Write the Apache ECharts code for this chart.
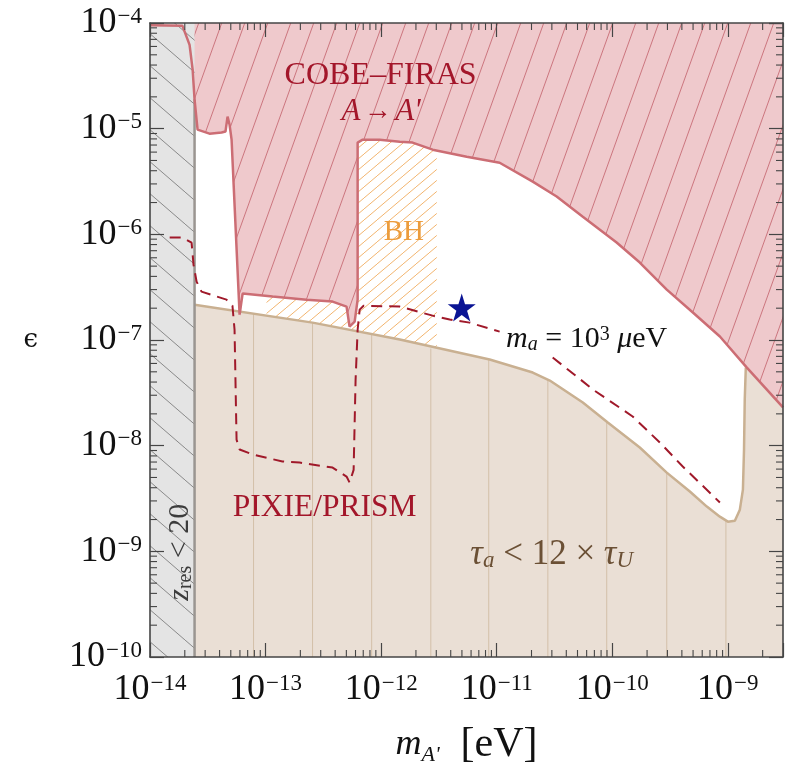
<!DOCTYPE html>
<html><head><meta charset="utf-8">
<script src="https://cdn.jsdelivr.net/npm/echarts@6/dist/echarts.min.js"></script>
<style>html,body{margin:0;padding:0;background:#fff}#c{width:791px;height:766px}</style>
</head><body><div id="c"></div>
<script>
// ---------- axis definitions ----------
const xMin = 1e-14, xMax = 3e-9, yMin = 1e-10, yMax = 1e-4;
const xDecades = [1e-14, 1e-13, 1e-12, 1e-11, 1e-10, 1e-9];
const yDecades = [1e-10, 1e-9, 1e-8, 1e-7, 1e-6, 1e-5];
const minorMult = [2, 3, 4, 5, 6, 7, 8, 9];

// ---------- data (m_A' [eV], epsilon) ----------
const zresRegion = [[1e-14, 1e-10], [2.43e-14, 1e-10], [2.43e-14, 1e-4], [1e-14, 1e-4]];
const zresEdge = [[2.43e-14, 1e-10], [2.43e-14, 1.9e-5]];

const cobeBoundary = [
  [1e-14, 9.5e-5], [1.91e-14, 9.4e-5], [2.2e-14, 6.2e-5], [2.34e-14, 3.6e-5], [2.43e-14, 1.88e-5],
  [2.58e-14, 9.8e-6], [3.27e-14, 8.97e-6], [4.16e-14, 9.2e-6], [4.5e-14, 9.4e-6], [4.69e-14, 1.3e-5],
  [4.88e-14, 1.09e-5], [5.08e-14, 7.87e-6], [5.96e-14, 1.74e-7], [6.08e-14, 1.67e-7], [6.33e-14, 2.75e-7],
  [1.15e-13, 2.58e-7], [2.26e-13, 2.41e-7], [3.8e-13, 2.31e-7], [5.02e-13, 2.07e-7], [5.33e-13, 1.34e-7],
  [5.9e-13, 1.49e-7], [6.26e-13, 2.41e-7], [6.26e-13, 7.38e-6], [6.92e-13, 7.87e-6], [9.7e-13, 7.87e-6],
  [1.45e-12, 7.53e-6], [1.87e-12, 7.38e-6], [2.79e-12, 6.33e-6], [5.5e-12, 5.43e-6], [1.06e-11, 4.76e-6],
  [2.05e-11, 3.15e-6], [3.3e-11, 2.28e-6], [5.56e-11, 1.47e-6], [1.09e-10, 8.36e-7], [1.73e-10, 5.41e-7],
  [2.96e-10, 3.0e-7], [4.98e-10, 1.82e-7], [8.53e-10, 1.08e-7], [1.46e-9, 5.48e-8], [3e-9, 2.3e-8]
];
const cobeTop = [[3e-9, 1e-4], [1e-14, 1e-4]];

const tauBoundary = [
  [2.43e-14, 2.16e-7], [2.55e-13, 1.46e-7], [1.45e-12, 1.01e-7], [8.69e-12, 6.53e-8], [2.05e-11, 4.92e-8],
  [2.88e-11, 4.13e-8], [5.56e-11, 2.56e-8], [9.14e-11, 1.66e-8], [1.73e-10, 9.6e-9], [2.96e-10, 5.56e-9],
  [4.69e-10, 3.68e-9], [6.58e-10, 2.65e-9], [8.53e-10, 2.13e-9], [1.0e-9, 1.91e-9], [1.15e-9, 1.95e-9],
  [1.27e-9, 2.48e-9], [1.35e-9, 3.84e-9], [1.38e-9, 9.2e-9], [1.40e-9, 2.74e-8], [1.43e-9, 5.48e-8]
];
const tauClose = [[3e-9, 2.3e-8], [3e-9, 1e-10], [2.43e-14, 1e-10]];
const tauGridX = [7.87e-14, 2.55e-13, 8.28e-13, 2.69e-12, 8.53e-12, 2.77e-11, 8.95e-11, 2.96e-10, 9.62e-10];
const tauGridTop = [1.78e-7, 1.46e-7, 1.12e-7, 8.3e-8, 6.53e-8, 4.22e-8, 1.7e-8, 5.56e-9, 1.95e-9];

const bhRegion = [[1.02e-13, 1.7e-7], [2.55e-13, 1.46e-7], [1.45e-12, 1.01e-7], [3.03e-12, 8.1e-8],
  [3.03e-12, 8e-6], [1.02e-13, 8e-6]];

const pixieLeft = [
  [1.48e-14, 9.31e-7], [1.91e-14, 9.31e-7], [2.29e-14, 8.33e-7], [2.38e-14, 5.16e-7], [2.53e-14, 3.57e-7],
  [2.79e-14, 2.87e-7], [4.59e-14, 2.41e-7], [5.17e-14, 2.11e-7], [5.39e-14, 1.25e-7], [5.61e-14, 1.14e-8],
  [5.96e-14, 9.2e-9], [7.7e-14, 8.26e-9], [1.4e-13, 7.08e-9], [1.97e-13, 6.92e-9], [3.8e-13, 6.2e-9],
  [5.02e-13, 5.1e-9], [5.33e-13, 4.48e-9], [5.78e-13, 5.9e-9], [6.01e-13, 4.2e-8], [6.26e-13, 1.25e-7],
  [6.52e-13, 1.94e-7], [7.05e-13, 2.11e-7], [1.45e-12, 2.07e-7], [2.79e-12, 1.7e-7], [3.92e-12, 1.56e-7],
  [5.83e-12, 1.46e-7], [1.06e-11, 1.2e-7]
];
const pixieRight = [
  [3.05e-11, 6.82e-8], [4.93e-11, 4.51e-8], [6.78e-11, 3.4e-8], [1.5e-10, 1.89e-8], [2.58e-10, 1.07e-8],
  [4.07e-10, 6.35e-9], [8.53e-10, 2.9e-9]
];
const starPoint = [[4.98e-12, 2.03e-7]];

// ---------- annotation anchors (data coords) ----------
const notes = [
  {key: 'cobe', at: [9.9e-13, 3.17e-5]},
  {key: 'cobe2', at: [1.0e-12, 1.45e-5]},
  {key: 'bh', at: [1.57e-12, 1.04e-6]},
  {key: 'ma', at: [6.0e-11, 1.01e-7]},
  {key: 'pixie', at: [3.24e-13, 2.6e-9]},
  {key: 'tau', at: [2.99e-11, 9.3e-10]},
  {key: 'zres', at: [1.84e-14, 9.8e-10]}
];

// ---------- helpers ----------
const SERIF = "'Liberation Serif', 'DejaVu Serif', serif";
function hatch(bg, line, w, h, dir, lw) {
  const c = document.createElement('canvas'); c.width = w; c.height = h;
  const g = c.getContext('2d');
  if (bg) { g.fillStyle = bg; g.fillRect(0, 0, w, h); }
  g.strokeStyle = line; g.lineWidth = lw;
  for (const dx of [-w, 0, w]) {
    g.beginPath();
    if (dir === '/') { g.moveTo(dx, h); g.lineTo(dx + w, 0); }
    else { g.moveTo(dx, 0); g.lineTo(dx + w, h); }
    g.stroke();
  }
  return {image: c, repeat: 'repeat'};
}
const redFill = hatch('#efc9cc', '#bf5a64', 23, 64, '/', 0.75);
const greyFill = hatch('#e4e4e4', '#727272', 37, 32, '\\', 0.8);
const bhFill = hatch(null, '#f2b46e', 13, 11, '/', 1);

function polygon(name, pts, fill, z) {
  return {type: 'custom', name, coordinateSystem: 'cartesian2d', z, silent: true, clip: true,
    data: pts,
    renderItem: (params, api) => {
      if (params.dataIndex !== 0) return null;
      return {type: 'polygon', shape: {points: pts.map(p => api.coord(p))}, style: {fill: fill}};
    }};
}
function polyline(name, pts, color, width, z, dash) {
  return {type: 'line', name, data: pts, z, showSymbol: false, symbol: 'none', silent: true,
    lineStyle: {color, width, type: dash || 'solid'}, animation: false};
}
function fmtPow(v) {
  const e = Math.log10(v), r = Math.round(e);
  if (Math.abs(e - r) > 0.01) return '';
  return '{b|10}{s|' + (r < 0 ? '\u2212' + (-r) : r) + '}';
}
const tickRich = {
  b: {fontSize: 36, fontFamily: SERIF, color: '#111'},
  s: {fontSize: 23, fontFamily: SERIF, color: '#111', verticalAlign: 'top', padding: [0, 0, 6, 1]}
};
const xMinor = [], yMinor = [];
xDecades.forEach(d => minorMult.forEach(m => { if (m * d < xMax) xMinor.push([m * d, yMin]); }));
yDecades.forEach(d => minorMult.forEach(m => { if (m * d < yMax) yMinor.push([xMin, m * d]); }));

const frame = '#454545';
function axisCommon() {
  return {type: 'log', logBase: 10, axisLine: {show: true, lineStyle: {color: frame, width: 1.6}},
    axisTick: {show: true, inside: true, length: 14, lineStyle: {color: frame, width: 1.2}},
    splitLine: {show: false}, minorTick: {show: false}, minorSplitLine: {show: false}};
}

const texts = {
  cobe: {text: 'COBE\u2013FIRAS', font: '32px ' + SERIF, fill: '#a3162a'},
  cobe2: {text: '{i|A} {n|\u2192} {i|A\'}', fill: '#a3162a',
    rich: {i: {fontSize: 31, fontStyle: 'italic', fontFamily: SERIF, fill: '#a3162a'}, n: {fontSize: 28, fontFamily: SERIF, fill: '#a3162a'}}},
  bh: {text: 'BH', font: '29px ' + SERIF, fill: '#ec9c3c'},
  ma: {text: '{i|m}{sub|a}{n| = 10}{sup|3}{n| }{i|\u03bc}{n|eV}', fill: '#111',
    rich: {i: {fontSize: 30, fontStyle: 'italic', fontFamily: SERIF, fill: '#111'},
      n: {fontSize: 30, fontFamily: SERIF, fill: '#111'},
      sub: {fontSize: 20, fontStyle: 'italic', fontFamily: SERIF, fill: '#111', verticalAlign: 'bottom', padding: [7, 0, 0, 0]},
      sup: {fontSize: 20, fontFamily: SERIF, fill: '#111', verticalAlign: 'top', padding: [0, 0, 7, 0]}}},
  pixie: {text: 'PIXIE/PRISM', font: '31.5px ' + SERIF, fill: '#a3162a'},
  tau: {text: '{i|\u03c4}{sub|a}{n| < 12 \u00d7 }{i|\u03c4}{sub|U}', fill: '#6b5035',
    rich: {i: {fontSize: 35, fontStyle: 'italic', fontFamily: SERIF, fill: '#6b5035'},
      n: {fontSize: 35, fontFamily: SERIF, fill: '#6b5035'},
      sub: {fontSize: 23, fontStyle: 'italic', fontFamily: SERIF, fill: '#6b5035', verticalAlign: 'bottom', padding: [9, 0, 0, 0]}}},
  zres: {text: '{i|z}{sub|res}{n| < 20}', fill: '#3c3c3c', rotation: Math.PI / 2,
    rich: {i: {fontSize: 30, fontStyle: 'italic', fontFamily: SERIF, fill: '#3c3c3c'},
      n: {fontSize: 30, fontFamily: SERIF, fill: '#3c3c3c'},
      sub: {fontSize: 20, fontFamily: SERIF, fill: '#3c3c3c', verticalAlign: 'bottom', padding: [7, 0, 0, 0]}}}
};

const chart = echarts.init(document.getElementById('c'), null, {renderer: 'canvas'});
const option = {
  animation: false,
  backgroundColor: '#fff',
  textStyle: {fontFamily: SERIF},
  grid: {left: 150, right: 8, top: 23, bottom: 109, containLabel: false, outerBoundsMode: 'none'},
  xAxis: [
    Object.assign(axisCommon(), {min: xMin, max: xMax, position: 'bottom', z: 20,
      axisLabel: {show: true, interval: 0, margin: 15, formatter: fmtPow, rich: tickRich},
      name: '{i|m}{sub|A\'}{n|  [eV]}', nameLocation: 'middle', nameGap: 67,
      nameTextStyle: {rich: {i: {fontSize: 36, fontStyle: 'italic', fontFamily: SERIF, color: '#111'},
        sub: {fontSize: 22, fontStyle: 'italic', fontFamily: SERIF, color: '#111', verticalAlign: 'bottom', padding: [14, 0, 0, 0]},
        n: {fontSize: 42, fontFamily: SERIF, color: '#111'}}}}),
    Object.assign(axisCommon(), {min: xMin, max: xMax, position: 'top', z: 20, axisLabel: {show: false}})
  ],
  yAxis: [
    Object.assign(axisCommon(), {min: yMin, max: yMax, position: 'left', z: 20,
      axisLabel: {show: true, interval: 0, margin: 8, formatter: fmtPow, rich: tickRich},
      name: '\u03f5', nameLocation: 'middle', nameRotate: 0, nameGap: 112,
      nameTextStyle: {fontSize: 26, fontFamily: "'DejaVu Serif', serif", color: '#111'}}),
    Object.assign(axisCommon(), {min: yMin, max: yMax, position: 'right', z: 20, axisLabel: {show: false}})
  ],
  series: [
    polygon('BH', bhRegion, bhFill, 1),
    polygon('tau', tauBoundary.concat(tauClose), '#eadfd5', 2),
    {type: 'custom', name: 'tauGrid', coordinateSystem: 'cartesian2d', z: 3, silent: true, clip: true,
      data: tauGridX.map((x, i) => [x, tauGridTop[i]]),
      renderItem: (params, api) => {
        const t = api.coord([api.value(0), api.value(1)]);
        const b = api.coord([api.value(0), yMin]);
        return {type: 'line', shape: {x1: t[0], y1: t[1], x2: b[0], y2: b[1]}, style: {stroke: '#d3bfa8', lineWidth: 1}};
      }},
    polygon('COBE', cobeBoundary.concat(cobeTop), redFill, 4),
    polygon('zres', zresRegion, greyFill, 5),
    polyline('tauEdge', tauBoundary, '#c9b091', 2.5, 6),
    polyline('zresEdge', zresEdge, '#9a9591', 2.5, 6),
    polyline('cobeEdge', cobeBoundary, '#cc6d74', 2.5, 7),
    polyline('pixieA', pixieLeft, '#a0192a', 2, 8, [11, 7]),
    polyline('pixieB', pixieRight, '#a0192a', 2, 8, [11, 7]),
    {type: 'scatter', name: 'star', data: starPoint, z: 9, silent: true,
      symbol: 'path://M50,0 L61.2,34.5 L97.6,34.5 L68.2,55.9 L79.4,90.5 L50,69.1 L20.6,90.5 L31.8,55.9 L2.4,34.5 L38.8,34.5 Z',
      symbolSize: 28, itemStyle: {color: '#0a1494', opacity: 1}},
    {type: 'custom', name: 'xMinor', coordinateSystem: 'cartesian2d', z: 21, silent: true, clip: false,
      data: xMinor,
      renderItem: (params, api) => {
        const b = api.coord([api.value(0), yMin]), t = api.coord([api.value(0), yMax]);
        return {type: 'group', children: [
          {type: 'line', shape: {x1: b[0], y1: b[1], x2: b[0], y2: b[1] - 7}, style: {stroke: frame, lineWidth: 1.1}},
          {type: 'line', shape: {x1: t[0], y1: t[1], x2: t[0], y2: t[1] + 7}, style: {stroke: frame, lineWidth: 1.1}}]};
      }},
    {type: 'custom', name: 'yMinor', coordinateSystem: 'cartesian2d', z: 21, silent: true, clip: false,
      data: yMinor,
      renderItem: (params, api) => {
        const l = api.coord([xMin, api.value(1)]), r = api.coord([xMax, api.value(1)]);
        return {type: 'group', children: [
          {type: 'line', shape: {x1: l[0], y1: l[1], x2: l[0] + 7, y2: l[1]}, style: {stroke: frame, lineWidth: 1.1}},
          {type: 'line', shape: {x1: r[0], y1: r[1], x2: r[0] - 7, y2: r[1]}, style: {stroke: frame, lineWidth: 1.1}}]};
      }},
    {type: 'custom', name: 'notes', coordinateSystem: 'cartesian2d', z: 30, silent: true, clip: false,
      data: notes.map(n => n.at),
      renderItem: (params, api) => {
        const n = notes[params.dataIndex], t = texts[n.key];
        const p = api.coord([api.value(0), api.value(1)]);
        const style = {text: t.text, fill: t.fill, align: 'center', verticalAlign: 'middle'};
        if (t.font) style.font = t.font;
        if (t.rich) style.rich = t.rich;
        return {type: 'text', x: p[0], y: p[1], rotation: t.rotation || 0, style};
      }}
  ]
};
chart.setOption(option);
</script></body></html>
